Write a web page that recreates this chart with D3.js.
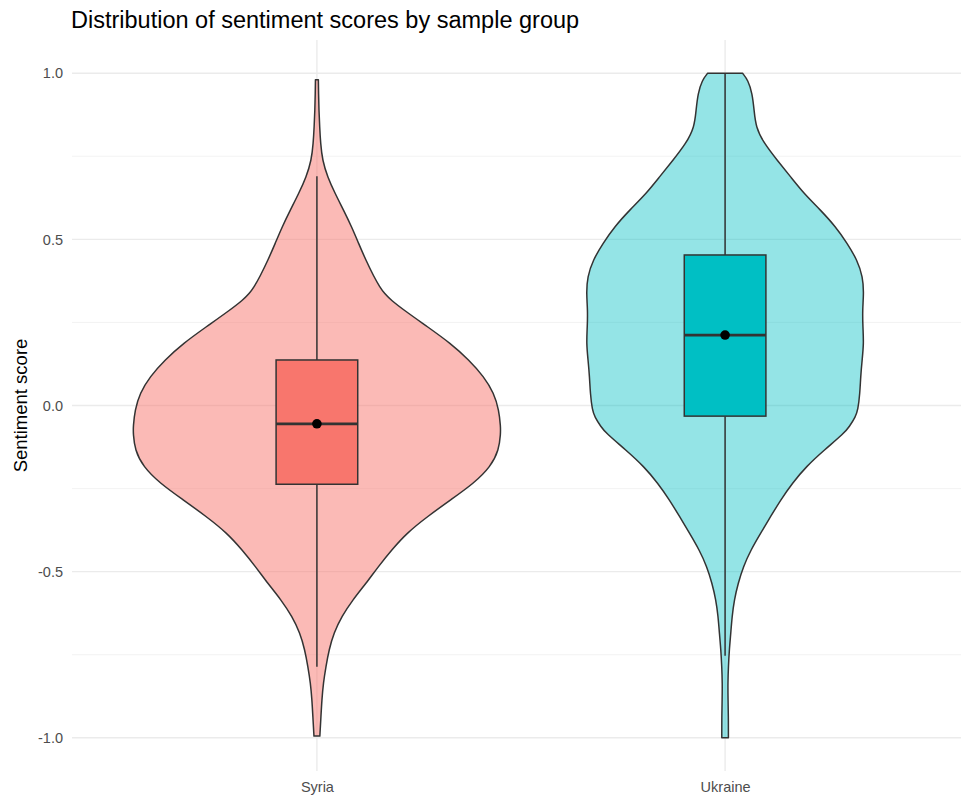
<!DOCTYPE html>
<html>
<head>
<meta charset="utf-8">
<script src="https://cdn.jsdelivr.net/npm/d3@7"></script>
<style>
  html, body { margin: 0; padding: 0; background: #fff; }
  svg { display: block; font-family: "Liberation Sans", Arial, Helvetica, sans-serif; }
</style>
</head>
<body>
<svg id="chart" width="961" height="798"></svg>
<script>
// Sample groups and their colours
const groups = ["Syria", "Ukraine"];
const groupColors = ["#F8766D", "#00BFC4"];
const violinOpacity = [0.5, 0.42];

// Kernel density profiles (score, scaled density: 1 = widest violin)
const syriaScores = [0.98, 0.939, 0.889, 0.839, 0.789, 0.738, 0.688, 0.638, 0.588, 0.538, 0.488, 0.438,
  0.387, 0.357, 0.337, 0.317, 0.287, 0.237, 0.187, 0.137, 0.087, 0.037, -0.014, -0.064, -0.084,
  -0.134, -0.184, -0.234, -0.284, -0.334, -0.384, -0.434, -0.485, -0.535, -0.585, -0.635, -0.685,
  -0.735, -0.786, -0.835, -0.886, -0.936, -0.995];
const syriaDensity = [0.008, 0.009, 0.011, 0.015, 0.020, 0.030, 0.058, 0.099, 0.145, 0.189, 0.227, 0.266,
  0.311, 0.342, 0.368, 0.404, 0.474, 0.602, 0.728, 0.828, 0.909, 0.964, 0.991, 1.0, 1.0,
  0.991, 0.946, 0.855, 0.728, 0.602, 0.489, 0.408, 0.334, 0.268, 0.195, 0.135, 0.092,
  0.066, 0.049, 0.035, 0.027, 0.022, 0.016];

const ukraineScores = [1.0, 0.979, 0.939, 0.889, 0.838, 0.789, 0.738, 0.688, 0.638, 0.588, 0.538, 0.488,
  0.438, 0.387, 0.337, 0.287, 0.237, 0.187, 0.137, 0.087, 0.037, -0.014, -0.034, -0.064, -0.084,
  -0.134, -0.184, -0.234, -0.284, -0.334, -0.384, -0.435, -0.485, -0.535, -0.585, -0.635, -0.685,
  -0.735, -0.786, -0.835, -0.886, -0.936, -1.0];
const ukraineDensity = [0.095, 0.125, 0.148, 0.158, 0.167, 0.212, 0.284, 0.357, 0.429, 0.520, 0.602, 0.665,
  0.719, 0.750, 0.755, 0.748, 0.750, 0.755, 0.746, 0.738, 0.734, 0.723, 0.710, 0.676, 0.647,
  0.540, 0.441, 0.366, 0.303, 0.248, 0.194, 0.140, 0.099, 0.071, 0.050, 0.038, 0.031,
  0.023, 0.018, 0.015, 0.016, 0.018, 0.018];

// Box plot summaries per group
const whiskerLow  = [-0.786, -0.753];
const quartile1   = [-0.237, -0.032];
const medians     = [-0.055, 0.212];
const quartile3   = [0.137, 0.453];
const whiskerHigh = [0.690, 1.0];
const meanScores  = [-0.055, 0.212];

// Axis ticks
const yMajorTicks = [-1.0, -0.5, 0.0, 0.5, 1.0];
const yMajorLabels = ["-1.0", "-0.5", "0.0", "0.5", "1.0"];
const yMinorTicks = [-0.75, -0.25, 0.25, 0.75];

const profiles = [
  { scores: syriaScores, density: syriaDensity },
  { scores: ukraineScores, density: ukraineDensity }
];

const svg = d3.select("#chart");
const panel = { left: 72, right: 970, top: 40, bottom: 771 };

const x = d3.scalePoint().domain(groups).range([panel.left, panel.right]).padding(0.6);
const step = x.step();
const y = d3.scaleLinear().domain([-1.1, 1.1]).range([panel.bottom, panel.top]);
const halfWidth = d3.scaleLinear().domain([0, 1]).range([0, 0.45 * step]);
const boxHalf = 0.1 * step;

const ink = "#333333";

// Grid
const grid = svg.append("g");
grid.selectAll("line.minor").data(yMinorTicks).join("line")
  .attr("x1", panel.left).attr("x2", panel.right)
  .attr("y1", d => y(d)).attr("y2", d => y(d))
  .attr("stroke", "#f2f2f2").attr("stroke-width", 0.9);
grid.selectAll("line.majorY").data(yMajorTicks).join("line")
  .attr("x1", panel.left).attr("x2", panel.right)
  .attr("y1", d => y(d)).attr("y2", d => y(d))
  .attr("stroke", "#ebebeb").attr("stroke-width", 1.4);
grid.selectAll("line.majorX").data(groups).join("line")
  .attr("x1", d => x(d)).attr("x2", d => x(d))
  .attr("y1", panel.top).attr("y2", panel.bottom)
  .attr("stroke", "#ebebeb").attr("stroke-width", 1.4);

// Violins
groups.forEach((g, i) => {
  const cx = x(g);
  const pts = profiles[i].scores.map((s, k) => ({ s, d: profiles[i].density[k] }));
  const area = d3.area()
    .y(p => y(p.s))
    .x0(p => cx - halfWidth(p.d))
    .x1(p => cx + halfWidth(p.d))
    .curve(d3.curveBasis);
  svg.append("path")
    .attr("d", area(pts))
    .attr("fill", groupColors[i])
    .attr("fill-opacity", violinOpacity[i])
    .attr("stroke", ink)
    .attr("stroke-width", 1.5)
    .attr("stroke-linejoin", "round");
});

// Box plots
groups.forEach((g, i) => {
  const cx = x(g);
  const b = svg.append("g");
  b.append("line")
    .attr("x1", cx).attr("x2", cx)
    .attr("y1", y(quartile3[i])).attr("y2", y(whiskerHigh[i]))
    .attr("stroke", ink).attr("stroke-width", 1.5);
  b.append("line")
    .attr("x1", cx).attr("x2", cx)
    .attr("y1", y(quartile1[i])).attr("y2", y(whiskerLow[i]))
    .attr("stroke", ink).attr("stroke-width", 1.5);
  b.append("rect")
    .attr("x", cx - boxHalf).attr("width", 2 * boxHalf)
    .attr("y", y(quartile3[i])).attr("height", y(quartile1[i]) - y(quartile3[i]))
    .attr("fill", groupColors[i])
    .attr("stroke", ink).attr("stroke-width", 1.5);
  b.append("line")
    .attr("x1", cx - boxHalf).attr("x2", cx + boxHalf)
    .attr("y1", y(medians[i])).attr("y2", y(medians[i]))
    .attr("stroke", ink).attr("stroke-width", 2.8);
  b.append("circle")
    .attr("cx", cx).attr("cy", y(meanScores[i]))
    .attr("r", 4.8).attr("fill", "#000");
});

// Axes
const yAxis = d3.axisLeft(y).tickValues(yMajorTicks).tickSize(0).tickPadding(9)
  .tickFormat((d, k) => yMajorLabels[k]);
const yg = svg.append("g").attr("transform", `translate(${panel.left},0)`).call(yAxis);
yg.select(".domain").remove();
yg.selectAll("text").attr("fill", "#4d4d4d").attr("font-size", 14.5)
  .attr("font-family", "Liberation Sans, Arial, sans-serif");

const xAxis = d3.axisBottom(x).tickSize(0).tickPadding(11);
const xg = svg.append("g").attr("transform", `translate(0,${panel.bottom})`).call(xAxis);
xg.select(".domain").remove();
xg.selectAll("text").attr("fill", "#4d4d4d").attr("font-size", 14.5)
  .attr("font-family", "Liberation Sans, Arial, sans-serif");

// Titles
svg.append("text")
  .attr("x", panel.left - 1).attr("y", 28)
  .attr("font-size", 23.5).attr("fill", "#000")
  .text("Distribution of sentiment scores by sample group");

svg.append("text")
  .attr("transform", `translate(27,${(panel.top + panel.bottom) / 2}) rotate(-90)`)
  .attr("text-anchor", "middle")
  .attr("font-size", 18.5).attr("fill", "#000")
  .text("Sentiment score");
</script>
</body>
</html>
